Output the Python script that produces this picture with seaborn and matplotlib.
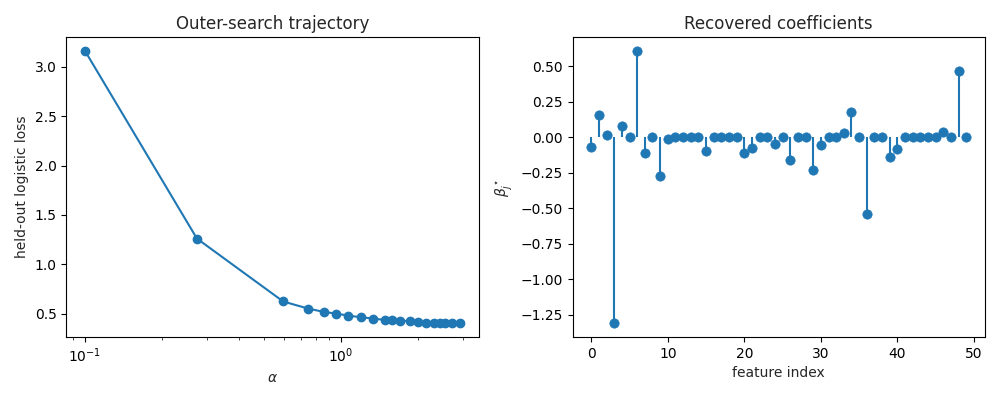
import numpy as np
import pandas as pd
import matplotlib
matplotlib.use("Agg")
import matplotlib.pyplot as plt
import seaborn as sns

# Left panel: outer-search trajectory
alphas = [0.100, 0.274, 0.596, 0.744, 0.861, 0.956, 1.07, 1.197, 1.337, 1.485,
          1.586, 1.714, 1.86, 2.00, 2.155, 2.315, 2.44, 2.57, 2.72, 2.93]
losses = [3.162, 1.26, 0.622, 0.551, 0.516, 0.500, 0.479, 0.463, 0.449, 0.436,
          0.430, 0.428, 0.422, 0.413, 0.409, 0.408, 0.405, 0.402, 0.402, 0.399]

# Right panel: recovered coefficients
feature_index = list(range(50))
coefs = [-0.071, 0.158, 0.014, -1.313, 0.078, 0.0, 0.607, -0.113, 0.0, -0.275,
         -0.016, 0.0, 0.0, 0.0, 0.0, -0.099, 0.0, 0.0, 0.0, 0.0,
         -0.113, -0.078, 0.0, 0.0, -0.047, 0.0, -0.160, 0.0, 0.0, -0.231,
         -0.054, 0.0, 0.0, 0.031, 0.177, 0.0, -0.544, 0.0, 0.0, -0.141,
         -0.082, 0.0, 0.0, 0.0, 0.0, 0.0, 0.033, 0.0, 0.466, 0.0]

sns.set_style("ticks")
plt.rcParams['font.family'] = ['DejaVu Sans']
c0 = "#1f77b4"

fig, axes = plt.subplots(1, 2, figsize=(10, 4), dpi=100)

ax = axes[0]
df1 = pd.DataFrame({"alpha": alphas, "loss": losses})
sns.lineplot(data=df1, x="alpha", y="loss", ax=ax, color=c0, marker="o",
             markersize=6, markeredgecolor=c0, markeredgewidth=1, sort=False)
ax.set_xscale("log")
ax.set_title("Outer-search trajectory")
ax.set_xlabel(r"$\alpha$")
ax.set_ylabel("held-out logistic loss")
ax.margins(x=0.05, y=0.05)

ax = axes[1]
df2 = pd.DataFrame({"idx": feature_index, "coef": coefs})
ax.vlines(df2["idx"], 0, df2["coef"], color=c0, linewidth=1.5)
sns.scatterplot(data=df2, x="idx", y="coef", ax=ax, color=c0, s=45,
                edgecolor=c0, linewidth=0.5, zorder=3)
ax.set_title("Recovered coefficients")
ax.set_xlabel("feature index")
ax.set_ylabel(r"$\beta^\star_j$")

for a in axes:
    for s in a.spines.values():
        s.set_visible(True)
        s.set_color("black")
        s.set_linewidth(0.8)
    a.tick_params(colors="black", labelsize=10)

fig.tight_layout()
fig.savefig("out.png", dpi=100)
